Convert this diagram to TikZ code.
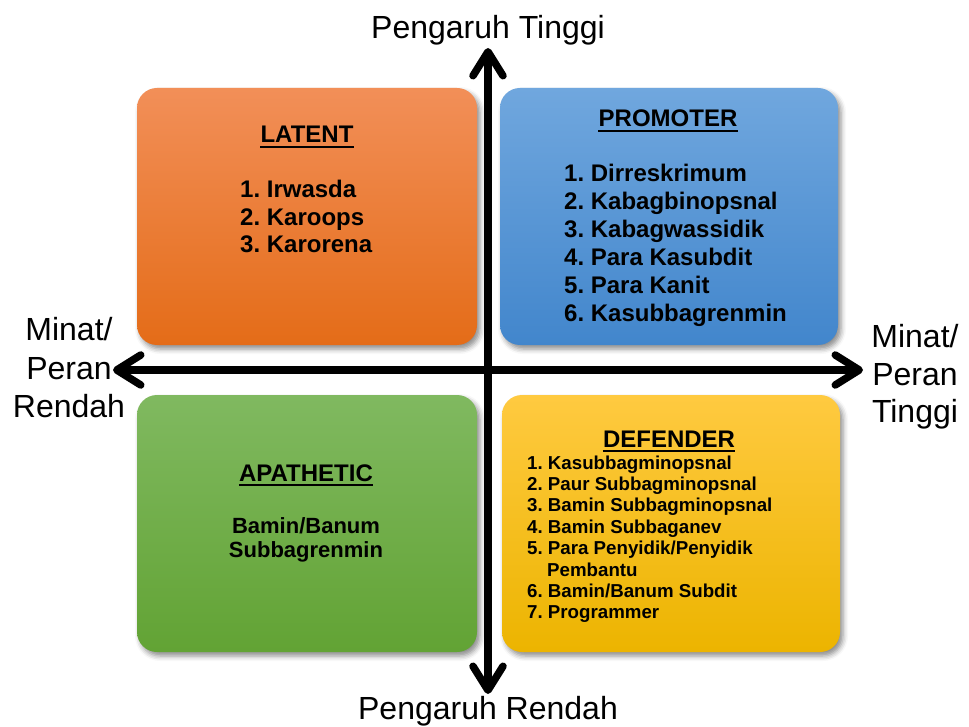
\documentclass[tikz,border=0pt]{standalone}
\usepackage{fontspec}
\setmainfont{Liberation Sans}
\usetikzlibrary{arrows.meta,shadows.blur}
\definecolor{latT}{RGB}{242,143,88}
\definecolor{latB}{RGB}{228,108,24}
\definecolor{proT}{RGB}{112,167,222}
\definecolor{proB}{RGB}{66,134,204}
\definecolor{apaT}{RGB}{128,185,96}
\definecolor{apaB}{RGB}{98,163,52}
\definecolor{defT}{RGB}{255,202,64}
\definecolor{defB}{RGB}{236,180,0}
\frenchspacing
\begin{document}
\begin{tikzpicture}[x=1pt,y=-1pt,
  quad/.style={rounded corners=20pt, minimum width=340pt, minimum height=257pt, inner sep=0pt,
    blur shadow={shadow xshift=3pt,shadow yshift=-4pt,shadow blur radius=5pt,shadow opacity=45}},
  ttl/.style={inner sep=0pt, anchor=base, font=\bfseries\fontsize{24}{28}\selectfont},
  itm/.style={inner sep=0pt, anchor=base west, font=\bfseries\fontsize{24}{28}\selectfont},
  ctr/.style={inner sep=0pt, anchor=base, font=\bfseries\fontsize{22}{26}\selectfont},
  ditm/.style={inner sep=0pt, anchor=base west, font=\bfseries\fontsize{18.7}{21}\selectfont},
  axl/.style={inner sep=0pt, anchor=base, font=\fontsize{32}{36}\selectfont},
  axisarrow/.style={line width=7.5pt, line cap=round,
    {Straight Barb[length=24pt,width=30pt,round]}-{Straight Barb[length=24pt,width=30pt,round]}},
  uline/.style={line width=2.3pt}
]
\useasboundingbox (0,0) rectangle (969,727);

% quadrant boxes
\node[quad, top color=latT, bottom color=latB] (latent) at (307,216.5) {};
\node[quad, minimum width=338pt, top color=proT, bottom color=proB] (promoter) at (669,216.5) {};
\node[quad, top color=apaT, bottom color=apaB] (apathetic) at (307,523.5) {};
\node[quad, minimum width=338pt, top color=defT, bottom color=defB] (defender) at (671,523.5) {};

% axes
\coordinate (vtop) at (488,48);
\coordinate (vbot) at (488,694);
\coordinate (hleft) at (113,370);
\coordinate (hright) at (863,370);
\draw[axisarrow] (vbot) -- (vtop);
\draw[axisarrow] (hleft) -- (hright);

% axis labels
\node[axl] (pt) at (488,39) {Pengaruh Tinggi};
\node[axl] (pr) at (488,719) {Pengaruh Rendah};
\node[axl] (l1) at (69,341) {Minat/};
\node[axl] (l2) at (69,379) {Peran};
\node[axl] (l3) at (69,417) {Rendah};
\node[axl] (r1) at (915,347) {Minat/};
\node[axl] (r2) at (915,385) {Peran};
\node[axl] (r3) at (915,422) {Tinggi};

% LATENT
\node[ttl] (tlat) at (307,143) {LATENT};
\draw[uline] ([yshift=-4pt]tlat.base west) -- ([yshift=-4pt]tlat.base east);
\node[itm] (lat1) at (240,198) {1. Irwasda};
\node[itm] (lat2) at (240,225.5) {2. Karoops};
\node[itm] (lat3) at (240,253) {3. Karorena};

% PROMOTER
\node[ttl] (tpro) at (668,127) {PROMOTER};
\draw[uline] ([yshift=-4pt]tpro.base west) -- ([yshift=-4pt]tpro.base east);
\foreach \t [count=\i from 0] in {1. Dirreskrimum,2. Kabagbinopsnal,3. Kabagwassidik,4. Para Kasubdit,5. Para Kanit,6. Kasubbagrenmin}
  \node[itm] (pro\i) at (564,182+27.8*\i) {\t};

% APATHETIC
\node[ttl] (tapa) at (306,481) {APATHETIC};
\draw[uline] ([yshift=-4pt]tapa.base west) -- ([yshift=-4pt]tapa.base east);
\node[ctr] (apa1) at (306,533) {Bamin/Banum};
\node[ctr] (apa2) at (306,557) {Subbagrenmin};

% DEFENDER
\node[ttl] (tdef) at (669,447) {DEFENDER};
\draw[uline] ([yshift=-4pt]tdef.base west) -- ([yshift=-4pt]tdef.base east);
\node[ditm] (def1) at (527,469) {1. Kasubbagminopsnal};
\node[ditm] (def2) at (527,490.4) {2. Paur Subbagminopsnal};
\node[ditm] (def3) at (527,511.8) {3. Bamin Subbagminopsnal};
\node[ditm] (def4) at (527,533.2) {4. Bamin Subbaganev};
\node[ditm] (def5) at (527,554.6) {5. Para Penyidik/Penyidik};
\node[ditm] (def5b) at (547,576) {Pembantu};
\node[ditm] (def6) at (527,597.4) {6. Bamin/Banum Subdit};
\node[ditm] (def7) at (527,618.8) {7. Programmer};
\end{tikzpicture}
\end{document}
